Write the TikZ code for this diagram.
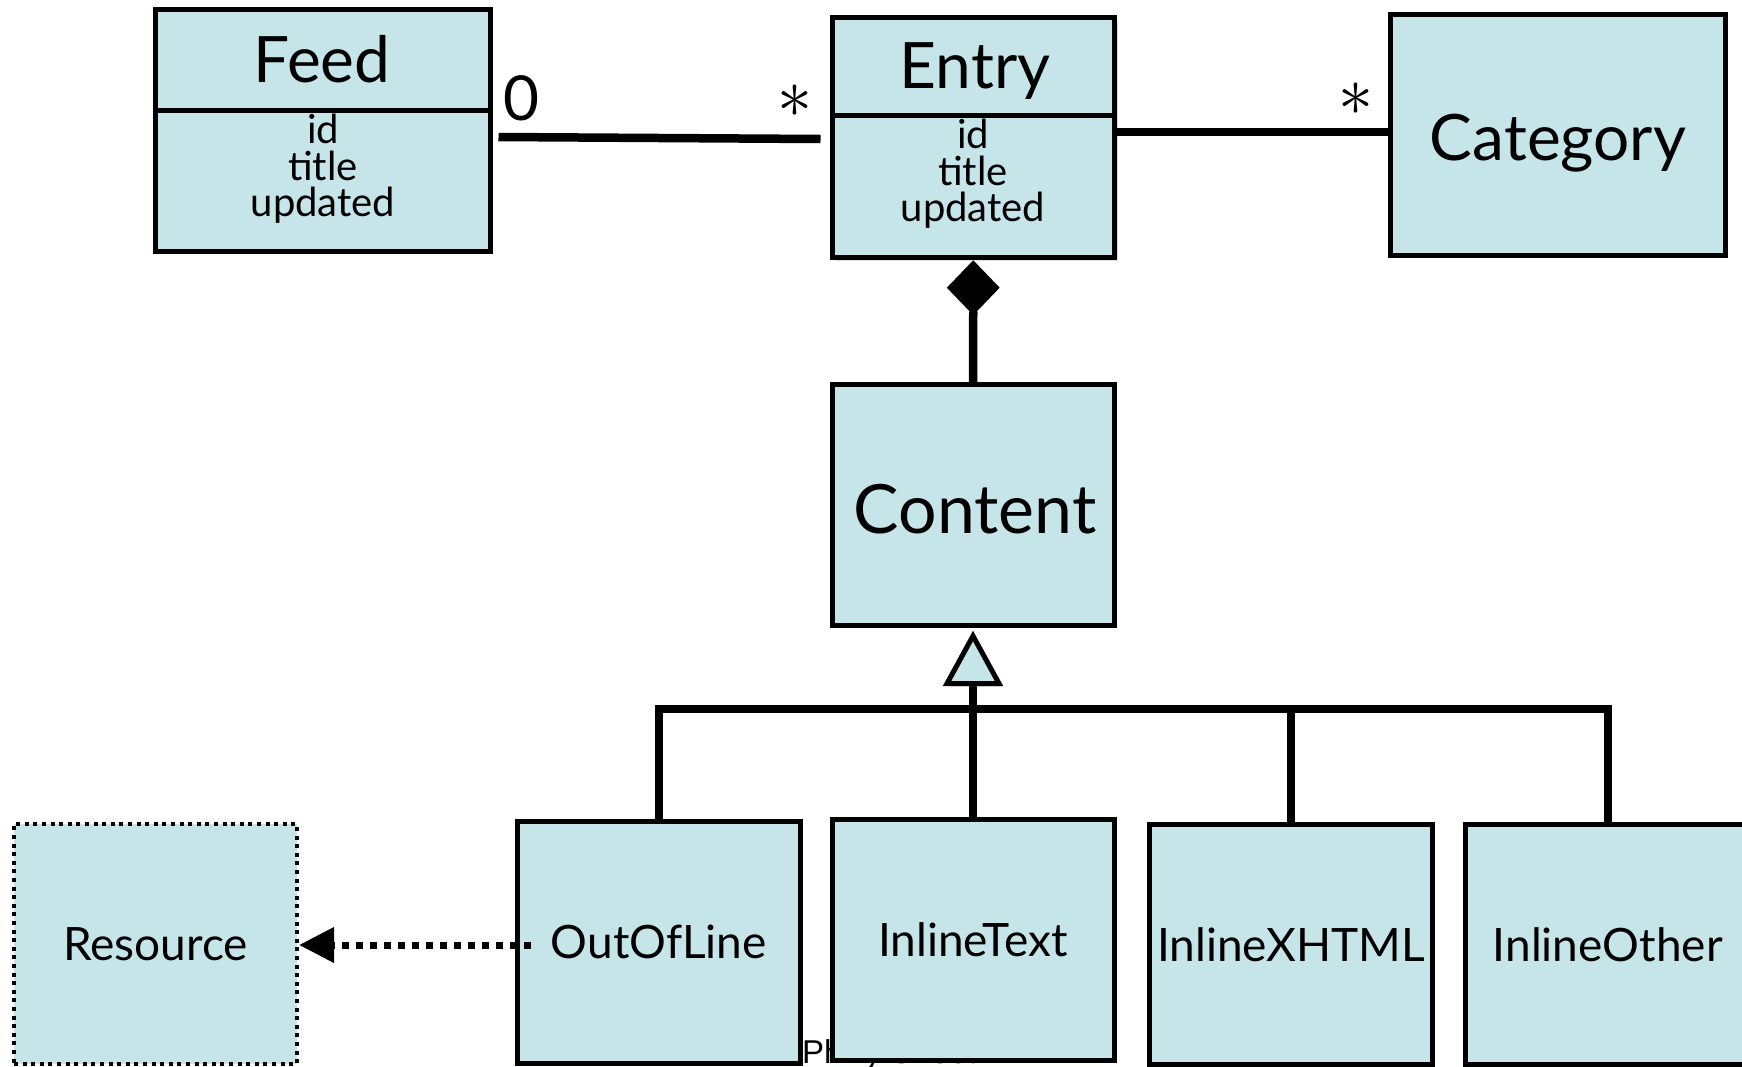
\documentclass[tikz,border=0pt]{standalone}
\usepackage{fontspec}
\setmainfont{Lato}
\newfontfamily\footfont{Liberation Sans}
\usepackage{graphicx}
\usetikzlibrary{calc,arrows.meta,shapes.geometric,shadows}
\definecolor{boxfill}{RGB}{198,229,233}
\begin{document}
\begin{tikzpicture}[x=1pt,y=-1pt,
  box/.style={draw, line width=5pt, fill=boxfill, rectangle, inner sep=0pt},
  conn/.style={line width=8.5pt},
  divider/.style={line width=5pt},
  titletext/.style={anchor=base, inner sep=0pt, font=\fontsize{64}{64}\selectfont},
  attrtext/.style={anchor=north, inner sep=0pt, align=center, font=\fontsize{40}{36.5}\selectfont},
  subtext/.style={font=\fontsize{46}{46}\selectfont},
  multtext/.style={inner sep=0pt},
  shadowed/.style={drop shadow={opacity=0.25, shadow xshift=3pt, shadow yshift=-3pt}}
]
\useasboundingbox (0,0) rectangle (1742,1066);
\clip (0,0) rectangle (1742,1066);

% footer text, mostly hidden behind the boxes
\node[anchor=base west, inner sep=0pt, font=\footfont\fontsize{33}{33}\selectfont] (footer) at (802,1063) {Philly Sheet};

% class boxes
\node[box, minimum width=335pt, minimum height=242pt] (feed) at (322.5,130.5) {};
\node[box, shadowed, minimum width=282.5pt, minimum height=240pt] (entry) at (973.25,137.5) {};
\node[box, minimum width=335pt, minimum height=241pt] (category) at (1558,135) {};
\node[box, minimum width=282pt, minimum height=241pt] (content) at (973,505) {};

\draw[divider] (feed.west |- 0,110) -- (feed.east |- 0,110);
\draw[divider] (entry.west |- 0,115.5) -- (entry.east |- 0,115.5);

\node[titletext] (feedT) at (322,82) {Feed};
\node[attrtext] (feedA) at (323,114) {id\\title\\updated};
\node[titletext] (entryT) at (975,88) {Entry};
\node[attrtext] (entryA) at (973,119) {id\\title\\updated};
\node[titletext] (categoryT) at (1558,160) {Category};
\node[titletext, font=\fontsize{68}{68}\selectfont] (contentT) at (975,533) {Content};

% subclasses
\node[box, subtext, minimum width=282.5pt, minimum height=242pt] (outofline) at (658.75,942) {OutOfLine};
\node[box, subtext, minimum width=282pt, minimum height=241pt] (inlinetext) at (973,939.5) {InlineText};
\node[box, subtext, minimum width=283pt, minimum height=240pt] (inlinexhtml) at (1291,944.5) {InlineXHTML};
\node[box, subtext, minimum width=284.5pt, minimum height=240pt] (inlineother) at (1607.75,944.5) {InlineOther};
\node[box, subtext, line width=4pt, dash pattern=on 4pt off 4.6pt, minimum width=283pt, minimum height=240pt] (resource) at (155.5,944) {Resource};

% associations
\draw[conn] ($(feed.east)+(6,6.5)$) -- ($(entry.west)+(-9,1.5)$);
\draw[conn] ($(entry.east)+(0,-5.5)$) -- ($(category.west)+(0,-3)$);
\node[multtext, anchor=base, font=\fontsize{62}{62}\selectfont] (m0) at (521,120) {0};
\node[multtext, anchor=north] (m1) at (795,85) {\scalebox{7}{$\ast$}};
\node[multtext, anchor=north] (m2) at (1356,83) {\scalebox{7}{$\ast$}};

% composition
\node[diamond, fill=black, minimum width=53pt, minimum height=55pt, inner sep=0pt, anchor=north] (comp) at (entry.south) {};
\draw[conn] ($(comp.south)+(0,-4)$) -- (content.north);

% generalization
\coordinate (gtop) at ($(content.south)+(0,8)$);
\coordinate (gbase) at ($(content.south)+(0,55.5)$);
\coordinate (bar) at (0,709);
\draw[conn] (gbase) -- (inlinetext.north);
\draw[conn] (outofline.north) -- (outofline.north |- bar) -- (inlineother.north |- bar) -- (inlineother.north);
\draw[conn] (inlinexhtml.north |- bar) -- (inlinexhtml.north);
\draw[line width=5pt, fill=boxfill, line join=miter, shadowed] (gtop) -- ($(gbase)+(-26,0)$) -- ($(gbase)+(26,0)$) -- cycle;

% dependency
\coordinate (dstart) at ($(outofline.west)+(16,3)$);
\draw[line width=7pt, dash pattern=on 7pt off 7pt, -{Triangle[length=35pt,width=34pt]}] (dstart) -- (resource.east |- dstart);
\end{tikzpicture}
\end{document}
